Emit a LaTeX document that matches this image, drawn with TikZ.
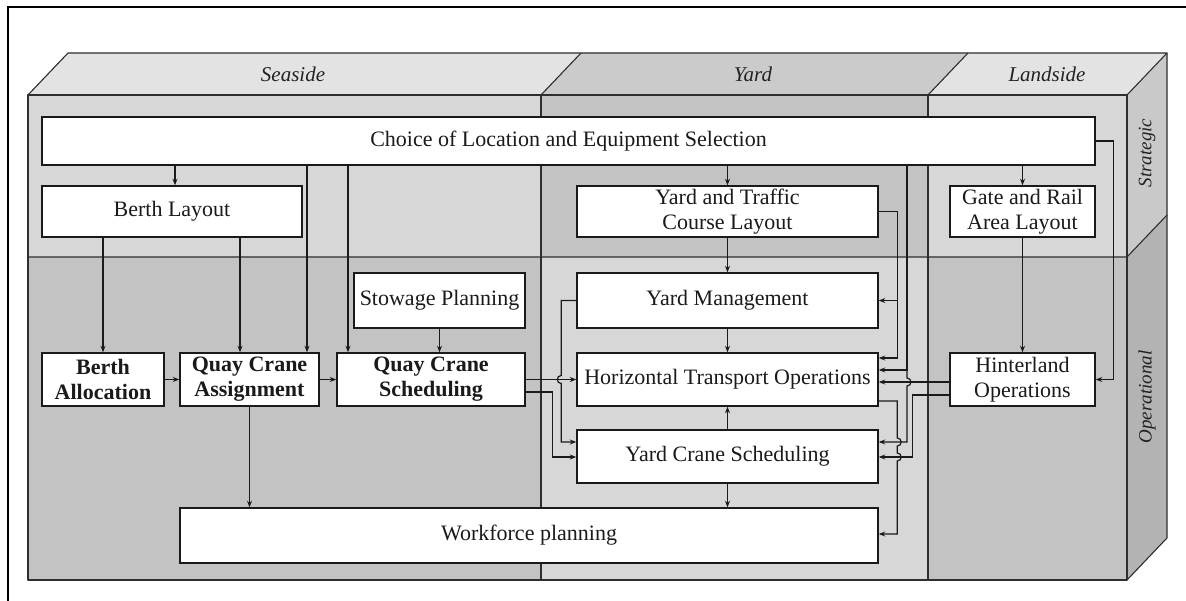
\documentclass[tikz,border=0pt]{standalone}
\usepackage{fontspec}
\setmainfont{Liberation Serif}
\usetikzlibrary{arrows.meta,calc}
\definecolor{topL}{HTML}{E3E3E3}
\definecolor{topD}{HTML}{CBCBCB}
\definecolor{frontL}{HTML}{D7D7D7}
\definecolor{frontD}{HTML}{C3C3C3}
\definecolor{sideL}{HTML}{C9C9C9}
\definecolor{sideD}{HTML}{B3B3B3}
\definecolor{edgec}{HTML}{2E2E2E}
\definecolor{linec}{HTML}{1A1A1A}
\definecolor{txtc}{HTML}{1A1A1A}
\definecolor{labc}{HTML}{222222}
\begin{document}
\begin{tikzpicture}[x=1pt,y=-1pt,
  edge/.style={draw=edgec,line width=1.1pt,line join=round},
  box/.style={draw=linec,line width=1.5pt,fill=white,inner sep=0pt,align=center,
    font=\fontsize{22}{25}\selectfont,text=txtc},
  boldbox/.style={box,font=\fontsize{22}{25}\selectfont\bfseries},
  arr/.style={draw=linec,line width=1.2pt,-{Stealth[length=6.5pt,width=5pt]}},
  lab/.style={font=\fontsize{21}{21}\selectfont\itshape,text=labc},
  sidelab/.style={font=\fontsize{19}{19}\selectfont\itshape,text=labc}]
\useasboundingbox (0,0) rectangle (1186,601);

% page frame
\draw[line width=2pt] (7.5,601) -- (7.5,7.5) -- (1186,7.5);

% top face of the block
\fill[topL] (28,95) -- (541,95) -- (581,53) -- (68,53) -- cycle;
\fill[topD] (541,95) -- (928,95) -- (968,53) -- (581,53) -- cycle;
\fill[topL] (928,95) -- (1127,95) -- (1167,53) -- (968,53) -- cycle;
% front face, strategic and operational layers
\fill[frontL] (28,95) rectangle (541,257);
\fill[frontD] (541,95) rectangle (928,257);
\fill[frontL] (928,95) rectangle (1127,257);
\fill[frontD] (28,257) rectangle (541,580);
\fill[frontL] (541,257) rectangle (928,580);
\fill[frontD] (928,257) rectangle (1127,580);
% side face
\fill[sideL] (1127,95) -- (1167,53) -- (1167,215) -- (1127,257) -- cycle;
\fill[sideD] (1127,257) -- (1167,215) -- (1167,538) -- (1127,580) -- cycle;

% block edges
\draw[edge] (28,95) rectangle (1127,580);
\draw[edge] (28,95) -- (68,53) -- (1167,53) -- (1127,95);
\draw[edge] (1167,53) -- (1167,538) -- (1127,580);
\draw[edge] (541,95) -- (581,53) (928,95) -- (968,53);
\draw[edge] (541,95) -- (541,580) (928,95) -- (928,580);
\draw[edge] (28,257) -- (1127,257) -- (1167,215);

% area and layer labels
\node[lab] at (293,74) {Seaside};
\node[lab] at (753,74) {Yard};
\node[lab] at (1047,74) {Landside};
\node[sidelab,rotate=90] at (1147,153) {Strategic};
\node[sidelab,rotate=90] at (1147,397) {Operational};

% strategic problems
\node[box,minimum width=1053pt,minimum height=48pt] (choice) at (568.5,141) {Choice of Location and Equipment Selection};
\node[box,minimum width=260pt,minimum height=51pt] (berthlayout) at (172,211.5) {Berth Layout};
\node[box,minimum width=301pt,minimum height=51pt] (yt) at (727.5,211.5) {Yard and Traffic\\Course Layout};
\node[box,minimum width=145pt,minimum height=51pt] (gate) at (1022.5,211.5) {Gate and Rail\\Area Layout};

% operational problems
\node[box,minimum width=171pt,minimum height=55pt] (stowage) at (439.5,300.5) {Stowage Planning};
\node[box,minimum width=301pt,minimum height=55pt] (ym) at (727.5,300.5) {Yard Management};
\node[boldbox,minimum width=122pt,minimum height=53pt] (ba) at (103,379.5) {Berth\\Allocation};
\node[boldbox,minimum width=139pt,minimum height=53pt] (qca) at (249.5,379.5) {Quay Crane\\Assignment};
\node[boldbox,minimum width=188pt,minimum height=53pt] (qcs) at (431,379.5) {Quay Crane\\Scheduling};
\node[box,minimum width=301pt,minimum height=53pt] (ht) at (727.5,379.5) {Horizontal Transport Operations};
\node[box,minimum width=145pt,minimum height=53pt] (hinter) at (1022.5,379.5) {Hinterland\\Operations};
\node[box,minimum width=301pt,minimum height=53pt] (ycs) at (727.5,456.5) {Yard Crane Scheduling};
\node[box,minimum width=698pt,minimum height=55pt] (wf) at (529,535.5) {Workforce planning};

% connector ports
\coordinate (cBL) at ([xshift=-393.5pt]choice.south);
\coordinate (cR) at ([xshift=338.5pt]choice.south);
\coordinate (ytR) at ([xshift=18.5pt]yt.east);
\coordinate (qcaT1) at ([xshift=-9.5pt]qca.north);
\coordinate (qcaT2) at ([xshift=57.5pt]qca.north);
\coordinate (qcsT1) at ([xshift=-83pt]qcs.north);
\coordinate (qcsB) at ([yshift=-12.5pt]qcs.east);
\coordinate (htA) at ([yshift=21.5pt]ht.east);
\coordinate (htB) at ([yshift=9.5pt]ht.east);
\coordinate (htC) at ([yshift=-2.5pt]ht.east);
\coordinate (htD) at ([yshift=-21.5pt]ht.east);
\coordinate (ycsA) at ([yshift=14.5pt]ycs.east);
\coordinate (ycsB) at ([yshift=-0.5pt]ycs.east);
\coordinate (ycsAL) at ([yshift=14.5pt]ycs.west);
\coordinate (ycsBL) at ([yshift=-0.5pt]ycs.west);
\coordinate (hinA) at ([yshift=-2.5pt]hinter.west);
\coordinate (hinB) at ([yshift=-15.5pt]hinter.west);
\coordinate (wfR) at ([yshift=1.5pt]wf.east);

% seaside connectors
\draw[arr] (cBL) -- (cBL |- berthlayout.north);
\draw[arr] (ba.north |- berthlayout.south) -- (ba.north);
\draw[arr] (qcaT1 |- berthlayout.south) -- (qcaT1);
\draw[arr] (qcaT2 |- choice.south) -- (qcaT2);
\draw[arr] (qcsT1 |- choice.south) -- (qcsT1);
\draw[arr] (stowage.south) -- (stowage.south |- qcs.north);
\draw[arr] (ba.east) -- (qca.west);
\draw[arr] (qca.east) -- (qcs.west);
\draw[arr] (qca.south) -- (qca.south |- wf.north);

% yard connectors
\draw[arr] (yt.north |- choice.south) -- (yt.north);
\draw[arr] (yt.south) -- (ym.north);
\draw[arr] (ym.south) -- (ht.north);
\draw[arr] (ycs.north) -- (ht.south);
\draw[arr] (ycs.south) -- (ycs.south |- wf.north);
\draw[arr] (ym.west) -- ++(-15,0) -- ++(0,75) arc[start angle=90,end angle=270,radius=4pt] |- (ycsAL);
\draw[arr] (qcs.east) -- (ht.west);
\draw[arr] (qcsB) -- ++(27,0) |- (ycsBL);
\draw[arr] (yt.east) -- (ytR) |- (htA);
\draw[arr] (ytR |- ym.east) -- (ym.east);
\draw[arr] (cR) |- (htB);
\draw[arr] (cR |- htB) -- ++(0,8) arc[start angle=90,end angle=-90,radius=4pt] |- (ycsA);
\draw[arr] (htD) -- (htD -| ytR) -- ++(0,37) arc[start angle=90,end angle=-90,radius=4pt]
  -- ++(0,7) arc[start angle=90,end angle=-90,radius=4pt] |- (wfR);

% landside connectors
\draw[arr] (gate.north |- choice.south) -- (gate.north);
\draw[arr] (gate.south) -- (hinter.north);
\draw[arr] (choice.east) -- ++(18,0) |- (hinter.east);
\draw[arr] (hinA) -- (htC);
\draw[arr] (hinB) -- ++(-36.5,0) |- (ycsB);
\end{tikzpicture}
\end{document}
